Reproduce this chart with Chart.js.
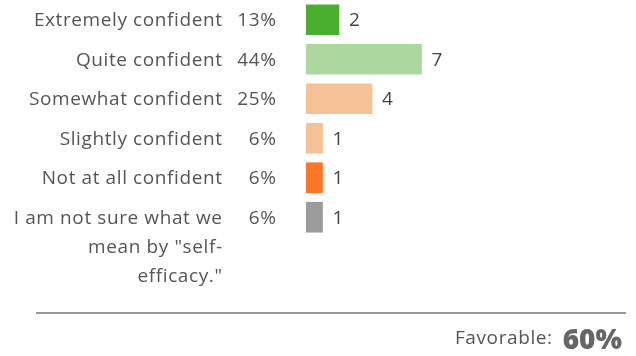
<!DOCTYPE html>
<html>
<head>
<meta charset="utf-8">
<script src="https://cdn.jsdelivr.net/npm/chart.js@4"></script>
<style>
  html, body { margin: 0; padding: 0; background: #fff; }
  #chart { display: block; }
</style>
</head>
<body>
<canvas id="chart" width="636" height="356"></canvas>
<script>
// data
const labels = [
    ['Extremely confident'],
    ['Quite confident'],
    ['Somewhat confident'],
    ['Slightly confident'],
    ['Not at all confident'],
    ['I am not sure what we', 'mean by "self-', 'efficacy."']
];
const counts = [2, 7, 4, 1, 1, 1];
const percents = ['13%', '44%', '25%', '6%', '6%', '6%'];
const colors = ['#4aaf2f', '#acd8a0', '#f5c196', '#f5c196', '#fd7628', '#9b9b9b'];
const favorable = '60%';

const labelFont = '19px "Open Sans", sans-serif';
const labelSpacing = '0.6px';
const numFont = '19px "Open Sans", sans-serif';

// labels, percents, value labels and the footer
const textPlugin = {
    id: 'texts',
    afterDatasetsDraw(chart) {
        const c = chart.ctx;
        const y = chart.scales.y;
        const meta = chart.getDatasetMeta(0);
        c.save();
        c.textBaseline = 'middle';
        labels.forEach((lines, i) => {
            const cy = y.getPixelForValue(i) + 1;
            c.font = labelFont;
            c.letterSpacing = labelSpacing;
            c.fillStyle = '#555';
            c.textAlign = 'right';
            lines.forEach((line, j) => {
                c.fillText(line, 222.6, cy + j * 29);
            });
            c.fillText(percents[i], 276.6, cy);

            const bar = meta.data[i];
            c.font = numFont;
            c.letterSpacing = '0px';
            c.fillStyle = '#444';
            c.textAlign = 'left';
            c.fillText(String(counts[i]), bar.x + 10, cy);
        });

        // separator
        c.strokeStyle = '#999';
        c.lineWidth = 2;
        c.beginPath();
        c.moveTo(36, 313);
        c.lineTo(626, 313);
        c.stroke();

        // favorable
        c.textBaseline = 'alphabetic';
        c.textAlign = 'right';
        c.letterSpacing = '0px';
        c.font = '800 28px "Open Sans", sans-serif';
        c.fillStyle = '#666';
        const w = c.measureText(favorable).width;
        c.fillText(favorable, 622, 349);
        c.font = labelFont;
        c.letterSpacing = labelSpacing;
        c.fillStyle = '#555';
        c.fillText('Favorable:', 622 - w - 10, 344);
        c.restore();
    }
};

new Chart(document.getElementById('chart'), {
    type: 'bar',
    data: {
        labels: labels,
        datasets: [{
            data: counts,
            backgroundColor: colors,
            barThickness: 30,
            borderWidth: 0
        }]
    },
    options: {
        indexAxis: 'y',
        responsive: false,
        animation: false,
        layout: { padding: { left: 306, right: 0, top: -3, bottom: 119 } },
        plugins: { legend: { display: false }, tooltip: { enabled: false } },
        scales: {
            x: { display: false, min: 0, max: 20 },
            y: { display: false }
        }
    },
    plugins: [textPlugin]
});
</script>
</body>
</html>
